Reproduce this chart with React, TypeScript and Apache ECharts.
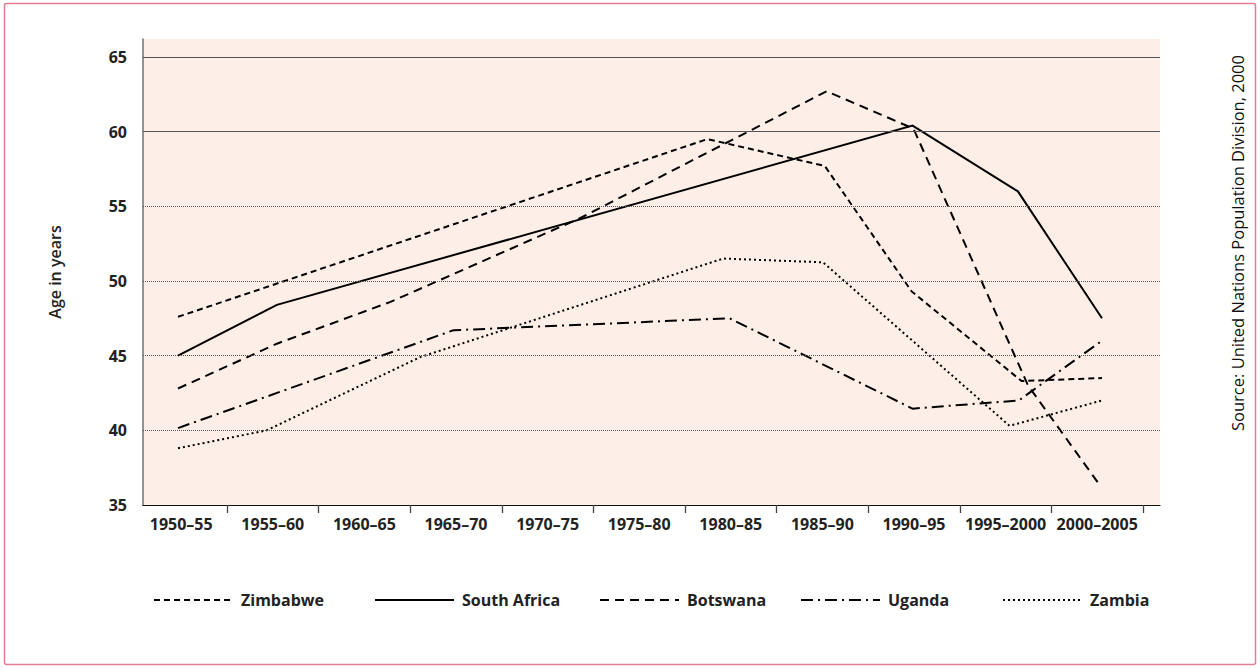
import React, { useEffect, useRef } from "react";
import * as echarts from "echarts";

// Category labels (periods)
const categories = [
  "1950–55", "1955–60", "1960–65", "1965–70", "1970–75", "1975–80",
  "1980–85", "1985–90", "1990–95", "1995–2000", "2000–2005",
];

// Series: [period position (0 = 1950–55 … 10 = 2000–2005), life expectancy]
const zimbabwe: [number, number][] = [
  [0, 47.6], [5.73, 59.5], [7.0, 57.7], [7.94, 49.3], [9.13, 43.3], [10, 43.5],
];
const southAfrica: [number, number][] = [
  [0, 45.0], [1.07, 48.4], [7.95, 60.4], [9.09, 56.0], [10, 47.5],
];
const botswana: [number, number][] = [
  [0, 42.8], [1.07, 45.8], [2.3, 48.6], [4.35, 54.2], [7.02, 62.7], [7.96, 60.2], [9.2, 43.0], [9.98, 36.3],
];
const uganda: [number, number][] = [
  [0, 40.15], [2.98, 46.7], [5.97, 47.5], [7.95, 41.45], [9.1, 42.0], [10, 46.0],
];
const zambia: [number, number][] = [
  [0, 38.8], [0.96, 40.0], [2.62, 44.9], [5.9, 51.5], [6.98, 51.25], [9.0, 40.3], [10, 42.0],
];

const yTicks = [35, 40, 45, 50, 55, 60, 65];
const dottedGrid = [40, 45, 50, 55];
const solidGrid = [60, 65];

const FONT = "'Open Sans', 'Noto Sans', sans-serif";

export default function App() {
  const ref = useRef<HTMLDivElement>(null);

  useEffect(() => {
    if (!ref.current) return;
    const chart = echarts.init(ref.current, null, { renderer: "svg" });

    const lineBase = (name: string, data: [number, number][], type: any, width = 2) => ({
      name,
      type: "line",
      xAxisIndex: 0,
      yAxisIndex: 0,
      data,
      symbol: "none",
      z: 3,
      lineStyle: { color: "#000", width, type, cap: "butt", join: "miter" },
      itemStyle: { color: "#000" },
    });

    const legendItem = (name: string, left: number) => ({
      data: [name],
      left,
      top: 587,
      itemWidth: 79,
      itemHeight: 14,
      itemStyle: { opacity: 0 },
      selectedMode: false,
      textStyle: {
        fontFamily: FONT,
        fontWeight: "bold",
        fontSize: 16,
        color: "#222",
        padding: [0, 0, 0, 3],
      },
    });

    chart.setOption({
      animation: false,
      backgroundColor: "#fff",
      grid: [
        {
          left: 143, top: 39, width: 1017, height: 466,
          show: true, backgroundColor: "#fdeee7", borderWidth: 0,
        },
        { left: 135.4, top: 39, width: 1007.6, height: 466, show: false },
      ],
      xAxis: [
        {
          type: "value",
          gridIndex: 0,
          min: -0.379,
          max: 10.628,
          axisLine: { show: true, onZero: false, lineStyle: { color: "#111", width: 1.2 } },
          axisTick: { show: false },
          axisLabel: { show: false },
          splitLine: { show: false },
        },
        {
          type: "category",
          gridIndex: 1,
          data: categories,
          boundaryGap: true,
          axisLine: { show: false },
          axisTick: {
            show: true,
            length: 8,
            interval: (index: number) => index !== 0,
            lineStyle: { color: "#444", width: 1.3 },
          },
          axisLabel: {
            interval: 0,
            margin: 11,
            fontFamily: FONT,
            fontWeight: "bold",
            fontSize: 16,
            color: "#222",
          },
          splitLine: { show: false },
        },
      ],
      yAxis: [
        {
          type: "value",
          gridIndex: 0,
          min: 35,
          max: 66.2,
          interval: 5,
          name: "Age in years",
          nameLocation: "middle",
          nameGap: 80,
          nameTextStyle: { fontFamily: FONT, fontSize: 16, fontWeight: 600, color: "#222" },
          axisLine: { show: true, onZero: false, lineStyle: { color: "#7a7a7a", width: 1.6 } },
          axisTick: { show: false },
          axisLabel: {
            margin: 16,
            fontFamily: FONT,
            fontWeight: "bold",
            fontSize: 16,
            color: "#222",
            formatter: (v: number) => (yTicks.includes(v) ? String(v) : ""),
          },
          splitLine: { show: false },
        },
        { type: "value", gridIndex: 1, min: 0, max: 1, show: false },
      ],
      legend: [
        legendItem("Zimbabwe", 148),
        legendItem("South Africa", 369),
        legendItem("Botswana", 594),
        legendItem("Uganda", 795),
        legendItem("Zambia", 997),
      ],
      graphic: [
        {
          type: "rect",
          shape: { x: 4.5, y: 3.5, width: 1251, height: 661, r: 2 },
          style: { fill: "none", stroke: "#e27d96", lineWidth: 1.5 },
          silent: true,
        },
        {
          type: "text",
          x: 1237,
          y: 243,
          rotation: Math.PI / 2,
          style: {
            text: "Source: United Nations Population Division, 2000",
            fontFamily: FONT,
            fontSize: 16.5,
            fill: "#111",
            align: "center",
            verticalAlign: "middle",
          },
        },
      ],
      series: [
        {
          name: "grid",
          type: "line",
          xAxisIndex: 0,
          yAxisIndex: 0,
          data: [],
          z: 1,
          silent: true,
          markLine: {
            silent: true,
            symbol: "none",
            label: { show: false },
            data: [
              ...dottedGrid.map((v) => ({
                yAxis: v,
                lineStyle: { color: "#555", width: 1, type: [1, 1] },
              })),
              ...solidGrid.map((v) => ({
                yAxis: v,
                lineStyle: { color: "#555", width: 1, type: "solid" },
              })),
            ],
          },
        },
        lineBase("Zimbabwe", zimbabwe, [6, 4]),
        lineBase("South Africa", southAfrica, "solid"),
        lineBase("Botswana", botswana, [9, 6]),
        lineBase("Uganda", uganda, [12, 5, 2, 5]),
        lineBase("Zambia", zambia, [2, 3]),
      ],
    });

    return () => chart.dispose();
  }, []);

  return (
    <div
      ref={ref}
      style={{ position: "fixed", left: 0, top: 0, width: 1260, height: 669 }}
    />
  );
}
